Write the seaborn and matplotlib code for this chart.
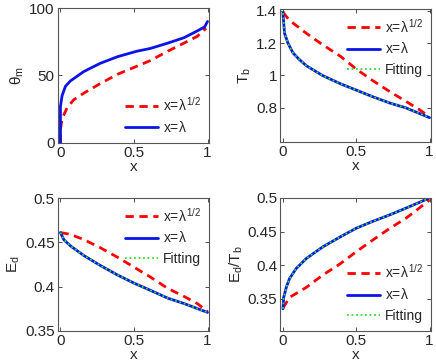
import numpy as np
import pandas as pd
import matplotlib
matplotlib.use('Agg')
import matplotlib.pyplot as plt
import seaborn as sns

# valores
x_theta = [0.0, 0.0, 0.011, 0.034, 0.068, 0.16, 0.27, 0.39, 0.52, 0.61, 0.73, 0.84, 0.93, 0.98, 1.0]
theta_lam = [0, 27, 35, 42, 46, 53, 59, 64, 68, 70, 74, 78, 83, 86, 90]
x_theta_r = [0.0, 0.0, 0.011, 0.045, 0.09, 0.16, 0.27, 0.39, 0.5, 0.61, 0.73, 0.84, 0.93, 0.99]
theta_sqrt = [0, 10, 18, 26, 32, 37, 44, 51, 56, 61, 68, 74, 79, 85]

x_tb = [0.0, 0.011, 0.034, 0.068, 0.11, 0.16, 0.27, 0.39, 0.5, 0.61, 0.73, 0.84, 1.0]
tb_lam = [1.385, 1.26, 1.2, 1.14, 1.1, 1.06, 1.0, 0.95, 0.91, 0.87, 0.83, 0.80, 0.74]
x_tb_r = [0.0, 0.045, 0.16, 0.27, 0.39, 0.5, 0.61, 0.73, 0.84, 0.93, 1.0]
tb_sqrt = [1.39, 1.34, 1.26, 1.19, 1.12, 1.04, 0.97, 0.90, 0.84, 0.79, 0.745]

x_ed = [0.0, 0.023, 0.068, 0.16, 0.27, 0.39, 0.5, 0.61, 0.73, 0.84, 1.0]
ed_lam = [0.461, 0.453, 0.446, 0.435, 0.424, 0.413, 0.404, 0.396, 0.387, 0.381, 0.371]
x_ed_r = [0.0, 0.068, 0.16, 0.27, 0.39, 0.5, 0.61, 0.73, 0.84, 0.93, 1.0]
ed_sqrt = [0.461, 0.459, 0.453, 0.444, 0.433, 0.422, 0.411, 0.398, 0.389, 0.381, 0.372]

x_r = [0.0, 0.005, 0.023, 0.045, 0.09, 0.16, 0.27, 0.39, 0.5, 0.61, 0.73, 0.84, 1.0]
r_lam = [0.335, 0.352, 0.367, 0.38, 0.395, 0.41, 0.427, 0.442, 0.455, 0.465, 0.475, 0.485, 0.5]
x_r_r = [0.0, 0.045, 0.16, 0.27, 0.39, 0.5, 0.61, 0.73, 0.84, 0.93, 1.0]
r_sqrt = [0.336, 0.352, 0.367, 0.385, 0.402, 0.42, 0.437, 0.455, 0.47, 0.485, 0.497]

sns.set_style('ticks')
plt.rcParams['font.family'] = ['Liberation Sans', 'DejaVu Sans']
plt.rcParams['mathtext.fontset'] = 'custom'
plt.rcParams['mathtext.rm'] = 'Liberation Sans'
plt.rcParams['mathtext.it'] = 'Liberation Sans'

fig = plt.figure(figsize=(4.36, 3.64), dpi=100)
W, H = 436, 364

def eixo(l, r, t, b):
    return fig.add_axes([l / W, 1 - b / H, (r - l) / W, (b - t) / H])

paineis = [
    (eixo(57.5, 209, 8, 143), x_theta_r, theta_sqrt, x_theta, theta_lam, False,
     r'$\theta_m$', (0, 100), [0, 50, 100], 'lower right'),
    (eixo(280, 431, 9, 142), x_tb_r, tb_sqrt, x_tb, tb_lam, True,
     r'$\mathrm{T_b}$', (0.59, 1.41), [0.8, 1.0, 1.2, 1.4], 'upper right'),
    (eixo(57.5, 209, 198, 331), x_ed_r, ed_sqrt, x_ed, ed_lam, True,
     r'$\mathrm{E_d}$', (0.35, 0.5), [0.35, 0.4, 0.45, 0.5], 'upper right'),
    (eixo(280, 431, 198, 331), x_r_r, r_sqrt, x_r, r_lam, True,
     r'$\mathrm{E_d/T_b}$', (0.302, 0.5), [0.35, 0.4, 0.45, 0.5], 'lower right'),
]

for ax, xr, yr, xb, yb, fit, ylab, ylim, yt, loc in paineis:
    sns.lineplot(x=xr, y=yr, ax=ax, color='red', lw=2, estimator=None,
                 linestyle=(0, (3, 2)), label=r'x=$\lambda^{1/2}$', sort=False)
    sns.lineplot(x=xb, y=yb, ax=ax, color='#0a14e6', lw=2, estimator=None,
                 label=r'x=$\lambda$', sort=False)
    if fit:
        sns.lineplot(x=xb, y=yb, ax=ax, color='#33dd33', lw=1.3, estimator=None,
                     linestyle=(0, (1, 1.5)), label='Fitting', sort=False)
    ax.set_xlim(-0.02, 1.01)
    ax.set_ylim(*ylim)
    ax.set_xticks([0, 0.5, 1])
    ax.set_xticklabels(['0', '0.5', '1'])
    ax.set_yticks(yt)
    ax.set_yticklabels([('%g' % v) for v in yt])
    ax.set_xlabel('x', fontsize=11, labelpad=0)
    ax.set_ylabel(ylab, fontsize=11, labelpad=2)
    ax.tick_params(direction='in', top=True, right=True, length=3,
                   labelsize=11, width=0.6, color='#333333', pad=2)
    for s in ax.spines.values():
        s.set_linewidth(0.8)
        s.set_color('#555555')
    ax.legend(loc=loc, frameon=False, fontsize=10, handlelength=2.4,
              handletextpad=0.3, borderaxespad=0.2, labelspacing=0.45)

fig.savefig('out.png', dpi=100)
